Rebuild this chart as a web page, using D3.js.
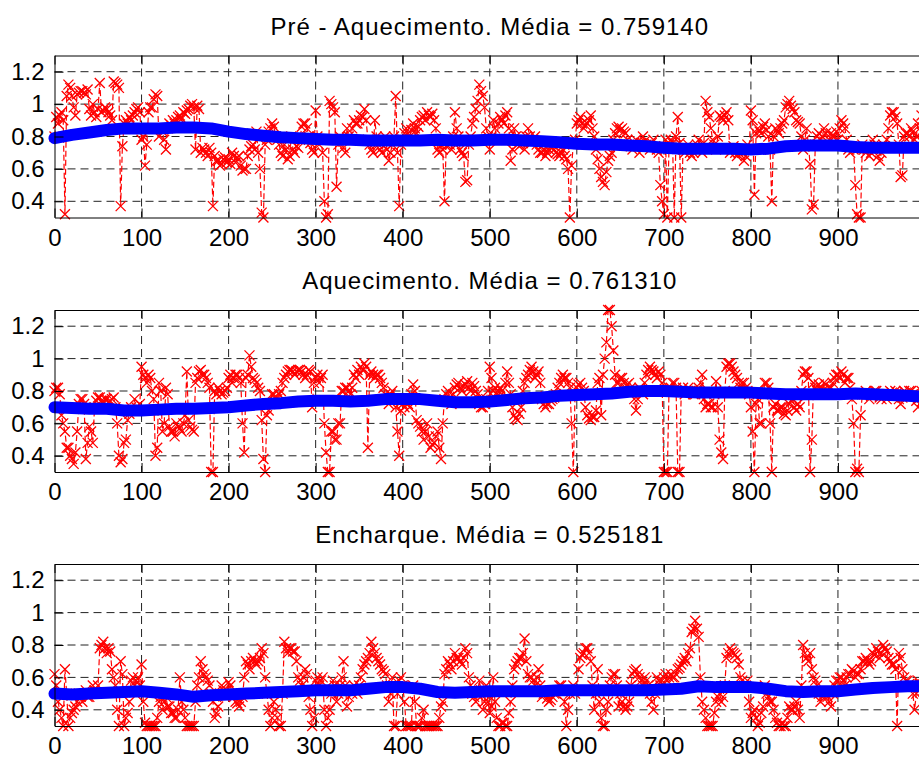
<!DOCTYPE html>
<html>
<head>
<meta charset="utf-8">
<script src="https://cdnjs.cloudflare.com/ajax/libs/d3/7.8.5/d3.min.js"></script>
<style>
  body { margin: 0; background: #fff; }
  svg { display: block; font-family: "Liberation Sans", Arial, Helvetica, sans-serif; }
</style>
</head>
<body>
<div id="chart"></div>
<script>
// panel titles
var panelTitles = [
  "Pré - Aquecimento. Média = 0.759140",
  "Aquecimento. Média = 0.761310",
  "Encharque. Média = 0.525181"
];

// tick labels
var xTicks = [0, 100, 200, 300, 400, 500, 600, 700, 800, 900];
var yTicks = [0.4, 0.6, 0.8, 1, 1.2];

// sample index of the red series (one reading every 2 samples)
var redIndex = d3.range(0, 1000, 2);
// sample index of the blue (running mean) series
var blueIndex = d3.range(0, 1001, 20);

// Pre-heating readings
var redPre = [
  .8,.92,.88,.93,.95,.9,.32,1.05,1.12,1.1,1.05,.98,.93,1.06,1.07,1.08,1.08,1.07,1.06,1.09,.97,.93,1.0,.95,.92,
  .97,1.13,.95,.96,.98,.97,.95,.93,.9,1.14,1.13,1.12,1.1,.37,.74,.88,.9,.88,.92,.9,.93,.95,.97,.98,.95,
  .78,.8,.62,.75,.95,.98,.98,1.03,1.06,1.05,.8,.85,.83,.78,.72,.85,.88,.87,.9,.88,.9,.92,.93,.91,.95,
  .94,.96,.97,.99,1.0,.98,.72,.99,.97,.7,.73,.72,.7,.68,.73,.7,.37,.68,.65,.65,.62,.63,.66,.67,.64,
  .66,.63,.7,.68,.64,.67,.68,.62,.59,.6,.6,.68,.72,.74,.75,.72,.83,.7,.6,.33,.3,.75,.78,.83,.85,
  .88,.86,.8,.78,.75,.7,.68,.75,.72,.66,.68,.8,.72,.7,.74,.73,.78,.86,.88,.88,.85,.8,.76,.72,.7,
  .96,.8,.75,.78,.7,.4,.3,.32,1.02,1.0,.98,.95,.49,.75,.8,.78,.73,.7,.85,.8,.78,.85,.9,.88,.88,
  .9,.93,.92,.97,.9,.78,.75,.72,.7,.9,.8,.75,.72,.7,.74,.8,.72,.65,.7,.75,.8,1.05,.7,.37,.75,
  .78,.82,.85,.82,.8,.84,.88,.85,.82,.86,.9,.92,.93,.9,.95,.93,.92,.94,.9,.85,.72,.7,.75,.72,.4,
  .74,.78,.75,.72,.8,.95,.85,.8,.72,.7,.68,.52,.53,.75,.8,.88,.92,.97,1.02,1.12,1.08,1.05,.98,.85,.8,
  .72,.8,.9,.85,.78,.88,.92,.9,.88,.93,.95,.85,.65,.72,.85,.8,.75,.74,.78,.76,.72,.8,.85,.8,.76,
  .78,.8,.75,.72,.7,.7,.72,.68,.7,.72,.74,.75,.72,.7,.69,.68,.7,.72,.68,.66,.6,.3,.62,.75,.78,
  .88,.9,.92,.88,.85,.87,.88,.9,.93,.85,.8,.72,.66,.6,.55,.52,.5,.58,.65,.68,.7,.78,.82,.85,.86,
  .84,.85,.83,.82,.78,.75,.74,.72,.76,.78,.74,.7,.76,.8,.77,.75,.74,.72,.76,.78,.74,.72,.7,.5,.4,
  .32,.78,.3,.75,.78,.76,.3,.8,.92,.76,.3,.72,.7,.73,.75,.7,.68,.7,.72,.75,.78,.72,.7,.76,1.02,
  .95,.92,.85,.78,.75,.72,.8,.93,.92,.9,.93,.95,.9,.7,.72,.74,.7,.68,.7,.72,.7,.65,.68,.75,.72,
  .96,.9,.44,.82,.85,.83,.82,.86,.88,.84,.8,.72,.4,.8,.85,.84,.82,.85,.88,.9,.98,1.0,1.02,.99,.97,
  .95,.9,.89,.88,.8,.72,.78,.85,.75,.63,.35,.38,.75,.8,.82,.78,.8,.85,.82,.75,.78,.82,.8,.8,.83,
  .78,.85,.9,.88,.85,.78,.72,.7,.74,.72,.5,.32,.3,.3,.75,.72,.7,.72,.68,.7,.78,.75,.72,.68,.65,
  .7,.75,.74,.78,.85,.93,.95,.95,.92,.88,.75,.55,.56,.8,.82,.82,.8,.85,.83,.78,.8,.88,.85,.93,.82
];
var bluePre = [
  .79,.81,.825,.84,.85,.85,.85,.855,.855,.85,.83,
  .815,.805,.795,.79,.785,.78,.78,.775,.775,.775,
  .775,.78,.775,.775,.78,.78,.775,.77,.765,.755,
  .75,.75,.745,.74,.73,.725,.725,.725,.725,.72,
  .725,.74,.745,.745,.745,.735,.73,.73,.73,.73
];

// Heating readings
var redHeat = [
  .8,.82,.82,.78,.65,.6,.55,.45,.45,.4,.38,.35,.42,.55,.72,.75,.75,.72,.38,.48,.58,.55,.48,.7,.74,
  .76,.76,.74,.72,.75,.75,.73,.74,.75,.76,.7,.6,.4,.36,.38,.48,.5,.62,.66,.7,.68,.75,.7,.68,.72,
  .95,.9,.88,.85,.9,.88,.8,.75,.4,.45,.85,.8,.55,.6,.82,.78,.58,.55,.55,.52,.6,.58,.57,.55,.6,
  .65,.92,.62,.58,.56,.55,.85,.88,.92,.93,.9,.9,.88,.85,.82,.3,.3,.8,.78,.82,.8,.78,.79,.8,.82,
  .88,.9,.85,.88,.9,.9,.88,.85,.6,.42,.88,.9,1.02,.95,.88,.87,.85,.82,.8,.62,.38,.3,.65,.68,.72,
  .78,.78,.75,.75,.78,.8,.85,.88,.9,.92,.93,.93,.92,.9,.92,.93,.93,.92,.9,.88,.9,.93,.92,.7,.85,
  .88,.9,.85,.88,.9,.6,.42,.3,.3,.55,.55,.5,.5,.6,.6,.8,.8,.82,.82,.8,.78,.82,.9,.88,.93,
  .9,.95,.93,.97,.95,.45,.9,.92,.9,.88,.9,.9,.88,.85,.82,.78,.75,.72,.78,.8,.75,.7,.55,.4,.68,
  .72,.7,.75,.72,.7,.78,.84,.8,.62,.6,.58,.55,.5,.55,.6,.52,.45,.47,.48,.52,.55,.45,.38,.6,.75,
  .78,.8,.76,.72,.78,.82,.84,.85,.82,.8,.83,.84,.86,.82,.8,.85,.83,.8,.78,.72,.7,.7,.72,.75,.8,
  .95,.88,.8,.82,.78,.8,.82,.8,.75,.85,.92,.85,.78,.7,.65,.63,.62,.66,.7,.8,.85,.88,.9,.93,.95,
  .92,.88,.9,.92,.85,.75,.72,.7,.72,.72,.74,.75,.76,.78,.82,.85,.88,.9,.88,.88,.85,.82,.6,.3,.78,
  .82,.84,.85,.82,.8,.7,.65,.63,.62,.64,.64,.68,.85,.88,.65,.9,1.0,1.1,1.3,1.3,1.2,1.05,.9,.85,.85,
  .88,.88,.85,.82,.84,.85,.82,.8,.75,.68,.75,.82,.8,.78,.85,.9,.93,.95,.93,.92,.9,.88,.92,.9,.85,
  .3,.3,.3,.82,.82,.85,.85,.82,.3,.3,.8,.82,.78,.8,.82,.8,.8,.78,.78,.8,.82,.85,.9,.75,.7,
  .72,.72,.7,.7,.78,.86,.7,.5,.42,.38,.8,.95,.97,.97,.95,.92,.9,.88,.85,.82,.85,.85,.82,.8,.78,
  .7,.55,.3,.72,.75,.6,.6,.78,.85,.85,.82,.6,.3,.7,.72,.68,.68,.7,.7,.66,.65,.68,.72,.74,.75,
  .7,.68,.72,.7,.8,.9,.92,.92,.88,.3,.5,.85,.82,.8,.84,.82,.8,.85,.84,.8,.82,.82,.85,.88,.9,
  .9,.88,.92,.9,.85,.88,.88,.82,.75,.6,.3,.32,.3,.65,.78,.78,.8,.78,.75,.77,.78,.8,.8,.78,.76,
  .75,.78,.77,.75,.78,.8,.79,.78,.8,.79,.75,.72,.76,.8,.79,.78,.8,.8,.78,.77,.74,.7,.76,.8,.78
];
var blueHeat = [
  .7,.695,.69,.69,.68,.68,.685,.69,.69,.695,.7,
  .71,.72,.725,.735,.74,.74,.735,.74,.75,.75,
  .75,.74,.73,.73,.735,.745,.755,.76,.77,.775,
  .78,.785,.795,.8,.8,.795,.79,.79,.79,.79,
  .785,.78,.78,.78,.78,.785,.78,.775,.77,.765
];

// Soaking readings
var redSoak = [
  .62,.55,.45,.4,.35,.3,.65,.5,.3,.35,.38,.4,.42,.45,.5,.48,.45,.5,.52,.48,.48,.5,.55,.52,.5,
  .55,.78,.8,.82,.78,.75,.78,.76,.65,.6,.55,.4,.3,.7,.62,.3,.35,.38,.45,.58,.6,.55,.58,.6,.55,
  .68,.45,.32,.3,.3,.3,.3,.3,.3,.35,.45,.48,.4,.45,.48,.42,.42,.38,.38,.35,.35,.4,.6,.45,.4,
  .35,.3,.3,.3,.3,.3,.45,.55,.6,.7,.65,.62,.6,.58,.55,.5,.45,.35,.38,.42,.5,.55,.52,.48,.52,
  .57,.55,.5,.48,.45,.44,.42,.45,.48,.6,.7,.68,.65,.7,.72,.7,.68,.7,.72,.78,.75,.6,.5,.4,.3,
  .35,.45,.4,.35,.3,.3,.5,.82,.78,.75,.78,.78,.76,.76,.7,.6,.58,.55,.6,.65,.62,.48,.4,.3,.35,
  .58,.6,.55,.58,.6,.4,.3,.35,.4,.5,.58,.55,.45,.5,.55,.6,.7,.55,.42,.48,.52,.5,.55,.52,.5,
  .55,.6,.65,.68,.7,.72,.75,.82,.78,.75,.72,.7,.68,.65,.64,.62,.55,.45,.5,.6,.3,.3,.5,.58,.6,
  .55,.45,.3,.3,.3,.3,.55,.45,.3,.3,.3,.35,.4,.3,.3,.3,.3,.3,.3,.3,.3,.35,.42,.45,.62,
  .65,.7,.68,.65,.7,.75,.72,.72,.7,.68,.72,.78,.75,.6,.55,.5,.48,.45,.5,.58,.52,.4,.45,.55,.45,
  .38,.42,.6,.45,.35,.3,.3,.32,.32,.3,.3,.38,.45,.55,.65,.68,.7,.72,.72,.75,.84,.7,.62,.6,.6,
  .58,.55,.6,.65,.55,.48,.5,.5,.47,.45,.46,.48,.5,.5,.52,.55,.55,.52,.45,.3,.4,.5,.52,.55,.5,
  .52,.65,.72,.74,.75,.78,.78,.75,.7,.55,.4,.5,.65,.45,.35,.3,.3,.4,.45,.55,.6,.62,.62,.55,.42,
  .5,.45,.42,.4,.42,.45,.55,.62,.64,.65,.62,.6,.58,.55,.6,.58,.55,.5,.45,.4,.5,.6,.58,.55,.58,
  .6,.62,.58,.6,.62,.6,.6,.62,.65,.66,.68,.7,.72,.7,.75,.78,.88,.9,.95,.9,.85,.6,.45,.4,.35,
  .3,.3,.3,.3,.38,.45,.48,.5,.45,.48,.55,.72,.75,.78,.76,.75,.74,.72,.68,.6,.58,.55,.55,.58,.45,
  .35,.38,.4,.35,.3,.32,.38,.42,.55,.5,.48,.45,.45,.4,.35,.32,.3,.3,.32,.3,.3,.35,.42,.4,.4,
  .42,.45,.4,.35,.55,.8,.75,.72,.7,.75,.65,.6,.58,.55,.5,.45,.48,.5,.5,.48,.45,.42,.5,.55,.58,
  .58,.6,.6,.58,.55,.6,.62,.62,.65,.64,.6,.62,.62,.65,.7,.7,.72,.7,.68,.7,.75,.74,.78,.76,.72,
  .75,.8,.78,.76,.72,.7,.68,.68,.65,.3,.75,.72,.65,.6,.58,.58,.56,.55,.5,.4,.5,.58,.56,.55,.52
];
var blueSoak = [
  .5,.495,.5,.505,.51,.515,.505,.495,.48,.49,.495,
  .5,.505,.51,.515,.52,.52,.52,.53,.54,.54,
  .53,.51,.505,.51,.515,.515,.515,.515,.52,.52,
  .52,.52,.52,.52,.525,.53,.545,.54,.54,.54,
  .53,.515,.51,.515,.515,.525,.535,.54,.545,.545
];

(function () {

  var width = 919, height = 758;
  var plotLeft = 54.5, plotRight = 925;
  var panelTops = [55.5, 310, 564],
      panelHeight = 162;

  var svg = d3.select("#chart")
    .append("svg")
    .attr("width", width)
    .attr("height", height);

  //sample number
  var xPositionScale = d3.scaleLinear()
    .domain([0, 1000])
    .range([plotLeft, plotRight]);

  //ratio
  var yPositionScale = d3.scaleLinear()
    .domain([0.3, 1.3])
    .range([panelHeight, 0]);

  var line = d3.line()
    .x(function (d) { return xPositionScale(d.x) })
    .y(function (d) { return yPositionScale(d.y) });

  var panels = [
    { red: redPre, blue: bluePre },
    { red: redHeat, blue: blueHeat },
    { red: redSoak, blue: blueSoak }
  ];

  panels.forEach(function (p, i) {
    var g = svg.append("g")
      .attr("transform", "translate(0," + panelTops[i] + ")");

    var redData = p.red.map(function (v, k) { return { x: redIndex[k], y: v } });
    var blueData = p.blue.map(function (v, k) { return { x: blueIndex[k], y: v } });

    //clip
    g.append("clipPath")
      .attr("id", "clip" + i)
      .append("rect")
      .attr("x", plotLeft)
      .attr("y", 0)
      .attr("width", plotRight - plotLeft)
      .attr("height", panelHeight);

    //grid
    g.selectAll(".vgrid")
      .data(xTicks.slice(1))
      .enter().append("line")
      .attr("class", "vgrid")
      .attr("x1", function (d) { return xPositionScale(d) })
      .attr("x2", function (d) { return xPositionScale(d) })
      .attr("y1", 0)
      .attr("y2", panelHeight)
      .attr("stroke", "#222")
      .attr("stroke-dasharray", "8,5");

    g.selectAll(".hgrid")
      .data(yTicks)
      .enter().append("line")
      .attr("class", "hgrid")
      .attr("x1", plotLeft)
      .attr("x2", plotRight)
      .attr("y1", function (d) { return yPositionScale(d) })
      .attr("y2", function (d) { return yPositionScale(d) })
      .attr("stroke", "#222")
      .attr("stroke-dasharray", "8,5");

    //red dashed line
    g.append("path")
      .datum(redData)
      .attr("clip-path", "url(#clip" + i + ")")
      .attr("d", line)
      .attr("fill", "none")
      .attr("stroke", "#ff0000")
      .attr("stroke-width", 1.2)
      .attr("stroke-dasharray", "6,3");

    //red x markers
    g.selectAll(".mark")
      .data(redData)
      .enter().append("path")
      .attr("class", "mark")
      .attr("transform", function (d) {
        return "translate(" + xPositionScale(d.x) + "," + yPositionScale(d.y) + ")"
      })
      .attr("d", "M-5,-5L5,5M-5,5L5,-5")
      .attr("stroke", "#ff0000")
      .attr("stroke-width", 1.3)
      .attr("fill", "none");

    //blue running mean
    g.append("path")
      .datum(blueData)
      .attr("d", line)
      .attr("fill", "none")
      .attr("stroke", "#0000ff")
      .attr("stroke-width", 12)
      .attr("stroke-linecap", "round")
      .attr("stroke-linejoin", "round");

    //axes
    var xAxis = d3.axisBottom(xPositionScale)
      .tickValues(xTicks)
      .tickSizeInner(-9)
      .tickSizeOuter(0)
      .tickPadding(11);
    g.append("g")
      .attr("class", "axis x-axis")
      .attr("transform", "translate(0," + panelHeight + ")")
      .call(xAxis);

    var topAxis = d3.axisTop(xPositionScale)
      .tickValues(xTicks)
      .tickSizeInner(-9)
      .tickSizeOuter(0)
      .tickFormat("");
    g.append("g")
      .attr("class", "axis top-axis")
      .call(topAxis);

    var yAxis = d3.axisLeft(yPositionScale)
      .tickValues(yTicks)
      .tickSizeInner(-9)
      .tickSizeOuter(0)
      .tickPadding(10)
      .tickFormat(function (d) { return String(d) });
    g.append("g")
      .attr("class", "axis y-axis")
      .attr("transform", "translate(" + plotLeft + ",0)")
      .call(yAxis);

    g.selectAll(".axis path, .axis line")
      .attr("stroke", "#000")
      .attr("stroke-width", 1);

    g.selectAll(".axis text")
      .attr("fill", "#000")
      .style("font-size", "24px")
      .style("font-family", "'Liberation Sans', Arial, sans-serif");

    //title
    g.append("text")
      .attr("x", (plotLeft + plotRight) / 2)
      .attr("y", -21)
      .attr("text-anchor", "middle")
      .style("font-size", "24px")
      .style("letter-spacing", "1px")
      .attr("fill", "#000")
      .text(panelTitles[i]);
  });

})();
</script>
</body>
</html>
